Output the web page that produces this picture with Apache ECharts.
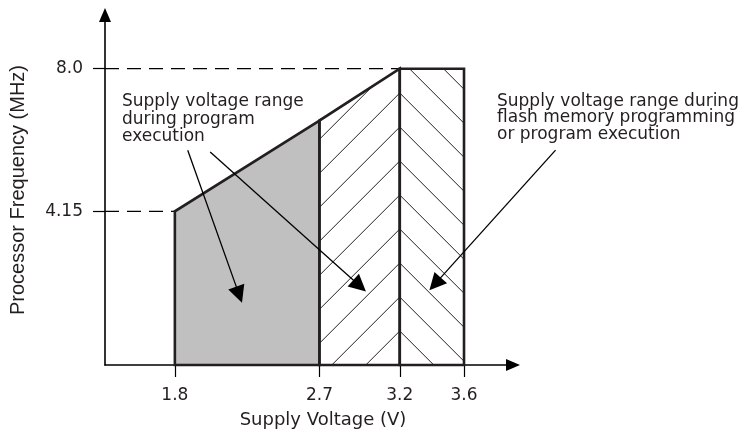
<!DOCTYPE html>
<html>
<head>
<meta charset="utf-8">
<script src="https://cdn.jsdelivr.net/npm/echarts@6/dist/echarts.min.js"></script>
<style>
  html, body { margin: 0; padding: 0; background: #fff; }
  #chart { width: 747px; height: 435px; }
</style>
</head>
<body>
<div id="chart"></div>
<script>
const voltageTicks = [1.8, 2.7, 3.2, 3.6]
const voltageLabels = ['1.8', '2.7', '3.2', '3.6']
const freqTicks = [4.15, 8.0]
const freqLabels = ['4.15', '8.0']

// envelope corners [supply voltage, max frequency]
const execOnly = [[1.8, 4.15], [2.7, 6.6]]
const execOrFlashLow = [[2.7, 6.6], [3.2, 8.0]]
const execOrFlashHigh = [[3.2, 8.0], [3.6, 8.0]]

// dashed guides back to the y axis
const guides = [[1.8, 4.15], [3.2, 8.0]]

// annotation arrows [from, to] in data units
const arrowExec1 = [[1.88, 5.8], [2.2, 1.9]]
const arrowExec2 = [[2.02, 5.75], [2.95, 2.14]]
const arrowFlash = [[4.17, 5.8], [3.42, 2.19]]

const xMin = 1.365, xMax = 3.905
const yMin = 0, yMax = 9.45

const ink = '#231f20'
const font = 'DejaVu Sans'
const hatchStep = 34

const regions = [execOnly, execOrFlashLow, execOrFlashHigh]
const regionFill = ['#c0c0c0', 'none', 'none']
const regionHatch = [null, '/', '\\']

// thin hatch lines clipped to a trapezoid with vertical sides,
// all meeting on the vertical "spine" so the right part forms a herringbone
function hatchLines(dir, bl, tl, tr, spine) {
  const a = tl[0], b = tr[0], ya = tl[1], yt = tr[1], yb = bl[1]
  const m = (yt - ya) / (b - a)
  const out = []
  for (let k = 1; k < 60; k++) {
    let x0, x1, f
    if (dir === '/') {
      const c = spine[0] + yb - k * hatchStep
      x0 = Math.max(a, c - yb)
      x1 = Math.min(b, (c - ya + m * a) / (1 + m))
      f = x => c - x
    } else {
      const d = yb - spine[0] - k * hatchStep
      x0 = Math.max(a, (ya - m * a - d) / (1 - m))
      x1 = Math.min(b, yb - d)
      f = x => x + d
    }
    if (x1 - x0 > 0.5) {
      out.push({
        type: 'line',
        shape: { x1: x0, y1: f(x0), x2: x1, y2: f(x1) },
        style: { stroke: ink, lineWidth: 1 }
      })
    }
  }
  return out
}

const chart = echarts.init(document.getElementById('chart'))

const option = {
  animation: false,
  grid: { left: 105, right: 234, top: 15, bottom: 70, outerBoundsMode: 'none' },
  xAxis: {
    type: 'value',
    min: xMin,
    max: xMax,
    name: 'Supply Voltage (V)',
    nameLocation: 'middle',
    nameGap: 46,
    nameTextStyle: { fontFamily: font, fontSize: 18, color: ink, padding: [0, 0, 0, 28] },
    axisLine: { show: true, lineStyle: { color: '#000', width: 1.6 }, symbol: ['none', 'triangle'], symbolSize: [12, 14] },
    axisTick: { show: true, customValues: voltageTicks, length: 12, lineStyle: { color: '#000', width: 1.2 } },
    axisLabel: {
      customValues: voltageTicks,
      margin: 22,
      fontFamily: font, fontSize: 17, color: ink,
      formatter: v => voltageLabels[voltageTicks.findIndex(t => Math.abs(t - v) < 1e-9)]
    },
    splitLine: { show: false }
  },
  yAxis: {
    type: 'value',
    min: yMin,
    max: yMax,
    name: 'Processor Frequency (MHz)',
    nameLocation: 'middle',
    nameGap: 77,
    nameTextStyle: { fontFamily: 'Liberation Sans', fontSize: 20, color: ink },
    axisLine: { show: true, lineStyle: { color: '#000', width: 1.6 }, symbol: ['none', 'triangle'], symbolSize: [12, 14] },
    axisTick: { show: true, customValues: freqTicks, length: 12, lineStyle: { color: '#000', width: 1.2 } },
    axisLabel: {
      customValues: freqTicks,
      margin: 22,
      fontFamily: font, fontSize: 17, color: ink,
      formatter: v => freqLabels[freqTicks.findIndex(t => Math.abs(t - v) < 1e-9)]
    },
    splitLine: { show: false }
  },
  graphic: [
    {
      type: 'text', left: 122, top: 93,
      style: { text: 'Supply voltage range\nduring program\nexecution', fontFamily: font, fontSize: 17, lineHeight: 17.5, fill: ink }
    },
    {
      type: 'text', left: 497, top: 93,
      style: { text: 'Supply voltage range during\nflash memory programming\nor program execution', fontFamily: font, fontSize: 17, lineHeight: 16.5, fill: ink }
    }
  ],
  series: [
    ...guides.map(g => ({
      type: 'line',
      data: [[xMin, g[1]], [g[0], g[1]]],
      symbol: 'none',
      silent: true,
      lineStyle: { color: '#000', width: 1.2, type: [14, 8] },
      z: 1
    })),
    {
      type: 'custom',
      data: regions.map(r => [r[0][0], r[0][1], r[1][0], r[1][1]]),
      encode: { x: [0, 2], y: [1, 3] },
      silent: true,
      z: 3,
      renderItem: (params, api) => {
        const i = params.dataIndex
        const x0 = api.value(0), y0 = api.value(1), x1 = api.value(2), y1 = api.value(3)
        const bl = api.coord([x0, 0]), tl = api.coord([x0, y0])
        const tr = api.coord([x1, y1]), br = api.coord([x1, 0])
        const spine = api.coord([execOrFlashHigh[0][0], 0])
        const children = [{
          type: 'polygon',
          shape: { points: [bl, tl, tr, br] },
          style: { fill: regionFill[i] }
        }]
        if (regionHatch[i]) children.push(...hatchLines(regionHatch[i], bl, tl, tr, spine))
        children.push({
          type: 'polygon',
          shape: { points: [bl, tl, tr, br] },
          style: { fill: 'none', stroke: ink, lineWidth: 2.6 }
        })
        return { type: 'group', children }
      }
    },
    {
      type: 'lines',
      coordinateSystem: 'cartesian2d',
      clip: false,
      silent: true,
      z: 5,
      symbol: ['none', 'triangle'],
      symbolSize: [13, 17],
      lineStyle: { color: '#000', width: 1.3, opacity: 1 },
      data: [arrowExec1, arrowExec2, arrowFlash].map(c => ({ coords: c }))
    }
  ]
}

chart.setOption(option)
</script>
</body>
</html>
